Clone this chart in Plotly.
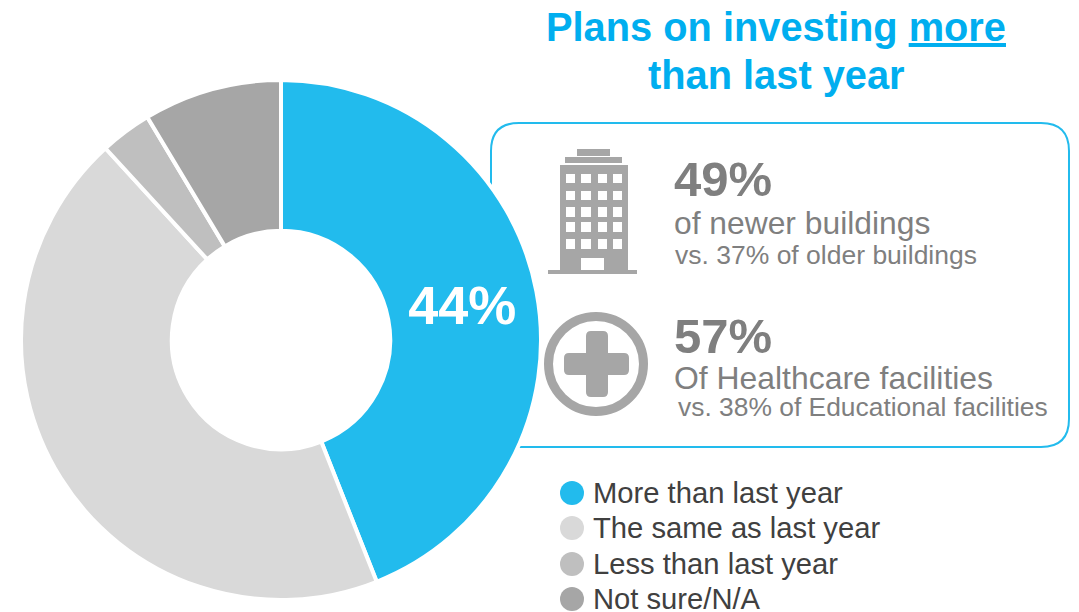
import plotly.graph_objects as go

W, H = 1079, 612
FONT = "Liberation Sans"
BLUE = "#22BBED"
ICON = "#A6A6A6"
STAT = "#7F7F7F"

categories = ["More than last year", "The same as last year", "Less than last year", "Not sure/N/A"]
shares = [44, 44.2, 3.2, 8.6]
slice_colors = [BLUE, "#D9D9D9", "#BFBFBF", ICON]
slice_labels = ["<b>44%</b>", "", "", ""]


def px(x):
    return x / W


def py(y):
    return 1 - y / H


def rect(x0, y0, x1, y1, color):
    return dict(type="rect", xref="paper", yref="paper", layer="above",
                x0=px(x0), x1=px(x1), y0=py(y0), y1=py(y1),
                fillcolor=color, line=dict(width=0))


def circle(cx, cy, r, fill, line_color=None, line_width=0):
    return dict(type="circle", xref="paper", yref="paper", layer="above",
                x0=px(cx - r), x1=px(cx + r), y0=py(cy + r), y1=py(cy - r),
                fillcolor=fill, line=dict(color=line_color, width=line_width))


def rounded_path(x0, y0, x1, y1, r):
    pts = [("M", x0 + r, y0), ("L", x1 - r, y0), ("Q", x1, y0, x1, y0 + r),
           ("L", x1, y1 - r), ("Q", x1, y1, x1 - r, y1), ("L", x0 + r, y1),
           ("Q", x0, y1, x0, y1 - r), ("L", x0, y0 + r), ("Q", x0, y0, x0 + r, y0)]
    parts = []
    for p in pts:
        coords = p[1:]
        pairs = [f"{px(coords[i]):.5f},{py(coords[i + 1]):.5f}" for i in range(0, len(coords), 2)]
        parts.append(p[0] + " ".join(pairs))
    return " ".join(parts) + " Z"


def text(x, y, s, size, color, bold=False):
    return dict(xref="paper", yref="paper", x=px(x), y=py(y), xanchor="left", yanchor="middle",
                text=f"<b>{s}</b>" if bold else s, showarrow=False, borderpad=0,
                font=dict(family=FONT, size=size, color=color))


def heading(y, s):
    return dict(xref="paper", yref="paper", x=px(776), y=py(y), xanchor="center", yanchor="middle",
                text=f"<b>{s}</b>", showarrow=False,
                font=dict(family=FONT, size=39.8, color="#00AEEF"))


shapes = [
    # Callout frame sits behind the doughnut
    dict(type="path", xref="paper", yref="paper", layer="below",
         path=rounded_path(491, 123, 1069, 447, 28),
         fillcolor="white", line=dict(color=BLUE, width=2)),
]

# Building icon
shapes += [
    rect(577, 149, 610, 156, ICON),
    rect(565, 157, 622, 163, ICON),
    rect(560, 165, 628, 271, ICON),
    rect(548, 270, 637, 274, ICON),
]
for wx0, wx1 in [(566, 575), (581, 591), (598, 607), (613, 622)]:
    for wy0, wy1 in [(174, 183), (191, 200), (207, 217), (222, 232), (239, 249)]:
        shapes.append(rect(wx0, wy0, wx1, wy1, "white"))
shapes.append(rect(581, 258, 604, 270, "white"))

# Healthcare icon
shapes.append(circle(596, 364, 47.5, "rgba(0,0,0,0)", ICON, 9))
shapes.append(dict(type="path", xref="paper", yref="paper", layer="above",
                   path=rounded_path(586, 331, 608, 397, 5), fillcolor=ICON, line=dict(width=0)))
shapes.append(dict(type="path", xref="paper", yref="paper", layer="above",
                   path=rounded_path(564, 353, 629, 375, 5), fillcolor=ICON, line=dict(width=0)))

# Legend rows
legend_y = [493, 528, 564, 599]
annotations = []
for name, color, y in zip(categories, slice_colors, legend_y):
    shapes.append(circle(572, y, 12, color))
    annotations.append(text(592, y, name, 29.2, "#404040"))

# Two-line heading, centred over the callout
annotations += [
    heading(27, "Plans on investing <u>more</u>"),
    heading(75, "than last year"),
]

annotations += [
    text(673, 179, "49%", 49, STAT, bold=True),
    text(673, 223, "of newer buildings", 31.8, STAT),
    text(674, 255, "vs. 37% of older buildings", 26.5, STAT),
    text(673, 336, "57%", 49, STAT, bold=True),
    text(673, 378, "Of Healthcare facilities", 31.9, STAT),
    text(677, 407, "vs. 38% of Educational facilities", 26.4, STAT),
]

fig = go.Figure(go.Pie(
    labels=categories,
    values=shares,
    text=slice_labels,
    textinfo="text",
    textposition="inside",
    insidetextorientation="horizontal",
    textfont=dict(family=FONT, size=54, color="white"),
    sort=False,
    direction="clockwise",
    rotation=0,
    hole=0.42,
    marker=dict(colors=slice_colors, line=dict(color="white", width=4)),
    domain=dict(x=[px(21), px(541)], y=[py(600), py(80)]),
    showlegend=False,
    hoverinfo="label+value",
))
fig.update_layout(
    width=W, height=H, margin=dict(l=0, r=0, t=0, b=0),
    paper_bgcolor="white", plot_bgcolor="white",
    shapes=shapes, annotations=annotations,
)
fig.write_html("out.html", config=dict(displayModeBar=False))
